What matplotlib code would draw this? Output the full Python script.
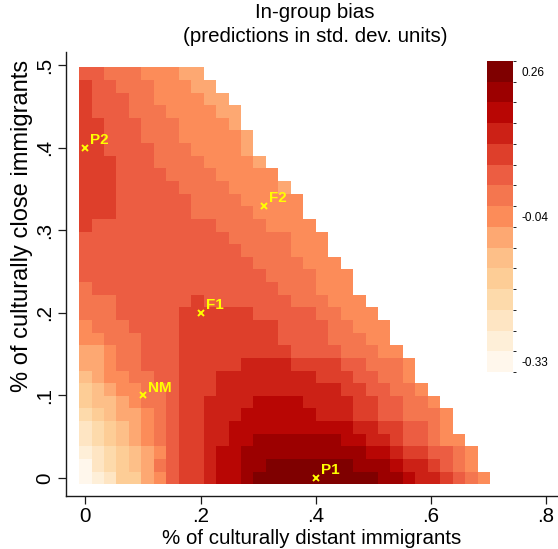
import numpy as np
import matplotlib
matplotlib.use("Agg")
import matplotlib.pyplot as plt
from matplotlib.colors import ListedColormap, BoundaryNorm

plt.rcParams['font.family'] = ['Liberation Sans', 'DejaVu Sans']

# Predicted in-group bias over a 33 x 33 grid of immigrant shares.
# One string per grid row, top row (close share = .49) first; one character
# per cell, left to right, giving its colour band (0 = lowest ... e = highest).
bias_rows = [
    "9988877766",
    "a9988877766",
    "a99988777766",
    "a999888777766",
    "aa99988877776",
    "aa999888777776",
    "aa999988877776",
    "aaa999888877776",
    "aaa9999888877777",
    "aaa99999888877776",
    "aaa999999888877777",
    "aaa999999888887777",
    "a999999999988887777",
    "99999999999988888777",
    "99999999999998888777",
    "999999999999998888777",
    "9999999999999998888777",
    "8999999999999999888777",
    "888999999a9999999888777",
    "88899999aaaaaa9999988777",
    "78889999aaaaaaaa999988777",
    "77888999aaaaaaaa999988877",
    "66788999aaaaaaaaa999988877",
    "66788999aaaaabbbbaaaa998887",
    "56778899aaabbbbbbbbaaa99887",
    "45677889aaabbbbbbbbbbaa99887",
    "45567889aabbbbccccbbbbaa99887",
    "34566789aabbbccccccbbbaa998887",
    "23456789aabbccccccccccbbaa9987",
    "23456789aabbccdddddddccbba99877",
    "12345679aabccddddddddddccbaa9987",
    "02345689aabccddeeeeeeedddcbba987",
    "01244679aabccdeeeeeeeeeeddcbba987",
]

# grid coordinates (shares of culturally distant / close immigrants)
dist_share = np.linspace(0.0, 0.692, 33)
close_share = np.linspace(0.0, 0.490, 33)

# colour bands of the legend
band_low, band_high, n_bands = -0.33, 0.26, 15
legend_bands = [14, 7, 0]
legend_labels = ["0.26", "-0.04", "-0.33"]

# highlighted scenarios
point_names = ["P1", "P2", "F1", "F2", "NM"]
point_dist = [0.40, 0.00, 0.20, 0.31, 0.10]
point_close = [0.00, 0.40, 0.20, 0.33, 0.10]

band_values = np.linspace(band_low, band_high, n_bands)
step = band_values[1] - band_values[0]

grid = np.full((len(close_share), len(dist_share)), np.nan)
for r, row in enumerate(bias_rows):
    j = len(close_share) - 1 - r
    for i, ch in enumerate(row):
        grid[j, i] = band_values[int(ch, 16)]
grid = np.ma.masked_invalid(grid)

base = plt.get_cmap("OrRd")
cmap = ListedColormap(base(np.linspace(0, 1, n_bands)))
norm = BoundaryNorm(np.append(band_values - step / 2, band_values[-1] + step / 2), n_bands)

W, H = 558, 549
fig = plt.figure(figsize=(W / 100, H / 100), dpi=100)
ax = fig.add_axes([66 / W, (H - 496) / H, (557 - 66) / W, (496 - 52) / H])

mesh = ax.pcolormesh(dist_share, close_share, grid, cmap=cmap, norm=norm,
                     shading="nearest", linewidth=0, antialiased=False)

yellow = "#ffff00"
ax.plot(point_dist, point_close, linestyle="none", marker="x", markersize=4.2,
        markeredgewidth=1.4, color=yellow, zorder=3)
for name, x, y in zip(point_names, point_dist, point_close):
    ax.annotate(name, (x, y), xytext=(3.6, 5.6), textcoords="offset points",
                ha="left", va="center", color=yellow, fontsize=11,
                fontweight="bold", zorder=4)

ax.set_xlim(-0.0335, 0.8189)
ax.set_ylim(-0.0218, 0.5161)
ax.set_xticks([0, 0.2, 0.4, 0.6, 0.8])
ax.set_xticklabels(["0", ".2", ".4", ".6", ".8"])
ax.set_yticks([0, 0.1, 0.2, 0.3, 0.4, 0.5])
ax.set_yticklabels(["0", ".1", ".2", ".3", ".4", ".5"], rotation=90, va="center")
for side in ("top", "right"):
    ax.spines[side].set_visible(False)
for side in ("left", "bottom"):
    ax.spines[side].set_linewidth(1.0)
    ax.spines[side].set_color("#1a1a1a")
ax.tick_params(direction="out", length=5.5, width=0.9, color="#1a1a1a",
               labelsize=14.8, labelcolor="black")
ax.tick_params(axis="x", pad=2.5)
ax.tick_params(axis="y", pad=3)

fig.text(312 / W, 1 - 539 / H, "% of culturally distant immigrants",
         ha="center", va="center", fontsize=14.8)
fig.text(22 / W, 1 - 226 / H, "% of culturally close immigrants",
         ha="center", va="center", fontsize=17, rotation=90)
fig.text(315 / W, 1 - 13 / H, "In-group bias", ha="center", va="center", fontsize=14.8)
fig.text(315 / W, 1 - 37 / H, "(predictions in std. dev. units)",
         ha="center", va="center", fontsize=14.8)

cax = fig.add_axes([487 / W, (H - 372) / H, 26 / W, 311 / H])
cb = fig.colorbar(mesh, cax=cax, ticks=band_values[legend_bands])
cb.set_ticklabels(legend_labels)
cb.outline.set_visible(False)
cax.tick_params(length=0, pad=6, labelsize=8.5)

fig.savefig("out.png", dpi=100)
